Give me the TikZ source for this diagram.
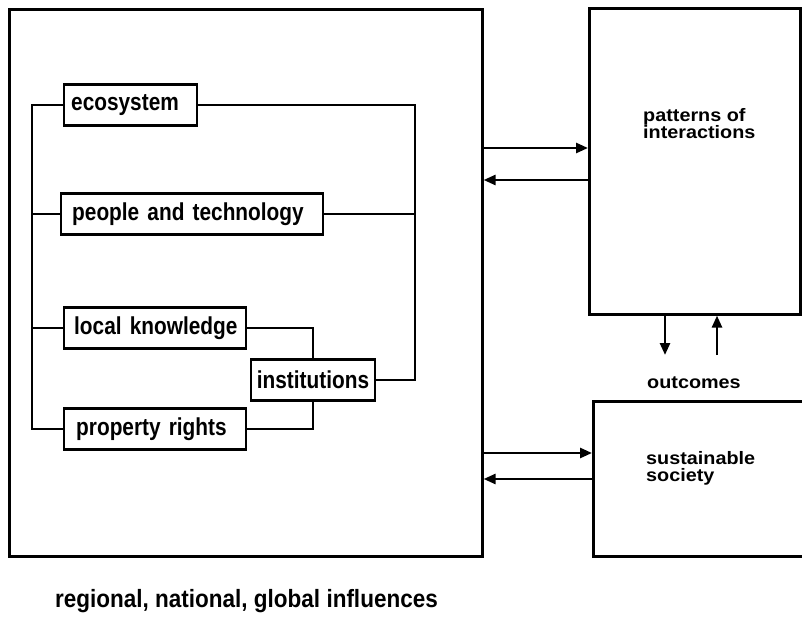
\documentclass[tikz,border=0pt]{standalone}
\usepackage{fontspec}
\usetikzlibrary{arrows.meta}
\setmainfont{Liberation Sans}
\newfontfamily\boxfont{Liberation Sans}[FakeStretch=0.85]
\newfontfamily\sidefont{Liberation Sans}[FakeStretch=1.1]
\newfontfamily\footfont{Liberation Sans}[FakeStretch=0.9]

\tikzstyle{factor}=[draw,line width=2.4pt,minimum height=41pt,inner xsep=9pt,inner ysep=0pt,
  align=left,anchor=west,font=\boxfont\bfseries\fontsize{24.5}{28}\selectfont]
\tikzstyle{frame} = [draw,line width=2.6pt,inner sep=0pt,anchor=north west]
\tikzstyle{link} = [draw,line width=2.4pt,-]
\tikzstyle{flow} = [draw,line width=2.6pt,-{Triangle[length=12pt,width=10pt]}]
\tikzstyle{side text} = [inner sep=0pt,align=left,
  font=\sidefont\bfseries\fontsize{18}{17}\selectfont]

\begin{document}
\lineskiplimit=-100pt
\begin{tikzpicture}[x=1pt,y=-1pt]
			\useasboundingbox (0,0) rectangle (802,617);
			% outer frame and the two boxes on the right
			\node[frame,minimum width=473pt,minimum height=547pt] (region) at (8,8) {};
			\node[frame,minimum width=211pt,minimum height=306pt] (patterns) at (588,7) {};
			\node[frame,minimum width=230pt,minimum height=155pt] (society) at (592,400) {};
			% factors inside the frame
			\node[factor,inner xsep=7pt,text width=119pt] (eco) at (63,105) {\mbox{ecosystem}};
			\node[factor,inner xsep=11pt,text width=240pt] (ppl) at (60,214) {\mbox{people and technology}};
			\node[factor,inner xsep=10pt,text width=162pt] (local) at (63,328) {\mbox{local knowledge}};
			\node[factor,inner xsep=12pt,text width=158pt] (prop) at (63,429) {\mbox{property rights}};
			\node[factor,anchor=center,inner xsep=6pt] (inst) at (313,380) {institutions};
			\coordinate (busL) at (32,0);
			\coordinate (busR) at (415,0);
			% texts
			\node[side text,anchor=north west] (pat label) at (643,108) {patterns of\\interactions};
			\node[side text,anchor=north west] (soc label) at (646,451) {sustainable\\society};
			\node[side text,anchor=base west] (outcomes) at (647,388) {outcomes};
			\node[anchor=base west,inner sep=0pt,font=\footfont\bfseries\fontsize{25}{30}\selectfont]
				(influences) at (55,607) {regional, national, global influences};
			% Connect the factors
			\draw[link] (eco.west) -- (eco.west -| busL) |- (prop.west);
			\draw[link] (eco.east) -- (eco.east -| busR) |- (inst.east);
			\foreach \f in {ppl,local}
				\draw[link] (\f.west) -- (\f.west -| busL);
			\draw[link] (ppl.east) -- (ppl.east -| busR);
			\draw[link] (local.east) -| (inst.north);
			\draw[link] (prop.east) -| (inst.south);
			% arrows between the boxes
			\coordinate (dn) at (665,355);
			\coordinate (up) at (717,355);
			\path[flow] (region.east |- 0,148) to (patterns.west |- 0,148);
			\path[flow] (patterns.west |- 0,180) to (region.east |- 0,180);
			\path[flow] (region.east |- 0,453) to (society.west |- 0,453);
			\path[flow] (society.west |- 0,479) to (region.east |- 0,479);
			\path[flow] (patterns.south -| dn) to (dn);
			\path[flow] (up) to (patterns.south -| up);
		\end{tikzpicture}
\end{document}
